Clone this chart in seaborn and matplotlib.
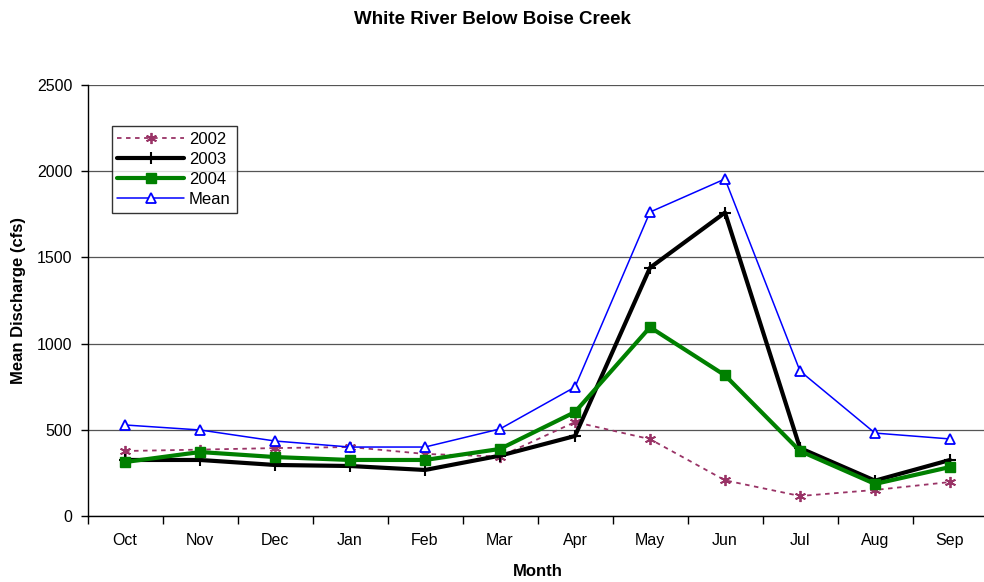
import numpy as np
import pandas as pd
import matplotlib
matplotlib.use("Agg")
import matplotlib.pyplot as plt
import seaborn as sns

# --- Data ---
months = ["Oct", "Nov", "Dec", "Jan", "Feb", "Mar", "Apr", "May", "Jun", "Jul", "Aug", "Sep"]
q2002 = [377, 385, 394, 400, 360, 345, 545, 446, 207, 116, 151, 197]
q2003 = [325, 325, 296, 290, 267, 350, 464, 1440, 1760, 394, 205, 325]
q2004 = [313, 371, 342, 325, 325, 389, 603, 1095, 816, 377, 186, 284]
q_mean = [528, 499, 435, 400, 400, 505, 748, 1763, 1955, 841, 481, 447]

sns.set_theme(style="white")
plt.rcParams["font.family"] = ["Liberation Sans", "DejaVu Sans"]
plt.rcParams["text.color"] = "black"
plt.rcParams["axes.labelcolor"] = "black"

df = pd.DataFrame({"Month": months, "2002": q2002, "2003": q2003,
                   "2004": q2004, "Mean": q_mean})

fig = plt.figure(figsize=(9.84, 5.82), dpi=100)
ax = fig.add_axes([87.5 / 984, 66 / 582, 900 / 984, 431 / 582])

styles = {
    "2002": dict(color="#993366", lw=1.3, ls=(0, (2.5, 2.5)), marker=(6, 2, 0), ms=8, mew=1.3,
                 mfc="#993366", mec="#993366"),
    "2003": dict(color="black", lw=3.0, ls="-", marker="+", ms=9, mew=1.5,
                 mfc="black", mec="black"),
    "2004": dict(color="#008000", lw=3.0, ls="-", marker="s", ms=7, mew=1,
                 mfc="#008000", mec="#008000"),
    "Mean": dict(color="#0000FF", lw=1.1, ls="-", marker="^", ms=7, mew=1.3,
                 mfc="white", mec="#0000FF"),
}

for name in ["2002", "2003", "2004", "Mean"]:
    st = styles[name]
    sns.lineplot(data=df, x="Month", y=name, sort=False, ax=ax, label=name,
                 color=st["color"], linewidth=st["lw"], linestyle=st["ls"],
                 marker=st["marker"], markersize=st["ms"], markeredgewidth=st["mew"],
                 markerfacecolor=st["mfc"], markeredgecolor=st["mec"])

# --- Axes formatting ---
ax.set_xlim(-0.5, len(months) - 0.5)
ax.set_ylim(0, 2500)
ax.set_yticks(np.arange(0, 2501, 500))
ax.yaxis.grid(True, color="#555555", linewidth=0.9)
ax.set_axisbelow(True)
for s in ["top", "right"]:
    ax.spines[s].set_visible(False)
for s in ["left", "bottom"]:
    ax.spines[s].set_color("black")
    ax.spines[s].set_linewidth(1.0)

ax.set_xticks(range(len(months)))
ax.set_xticklabels(months)
ax.set_xticks(np.arange(-0.5, len(months), 1.0), minor=True)
ax.tick_params(axis="x", which="major", length=0, pad=12, labelsize=11.5, colors="black")
ax.tick_params(axis="x", which="minor", length=6, width=1, direction="out", color="black", bottom=True)
ax.tick_params(axis="y", which="major", length=5, width=1, direction="out", left=True,
               labelsize=11.5, colors="black", pad=6)

ax.set_xlabel("Month", fontsize=12, fontweight="bold", labelpad=12)
ax.set_ylabel("Mean Discharge (cfs)", fontsize=12, fontweight="bold")
ax.yaxis.set_label_coords(-0.068, 0.5)
fig.text(0.5, 1 - 20 / 582, "White River Below Boise Creek", ha="center", va="center",
         fontsize=13.5, fontweight="bold")

leg = ax.legend(loc="upper left", bbox_to_anchor=(24 / 900, 1 - 41 / 431), fontsize=12,
                frameon=True, fancybox=False, handlelength=4.0, handletextpad=0.3,
                borderpad=0.35, labelspacing=0.3, borderaxespad=0)
leg.get_frame().set_edgecolor("black")
leg.get_frame().set_linewidth(1.0)

fig.savefig("out.png", dpi=100)
